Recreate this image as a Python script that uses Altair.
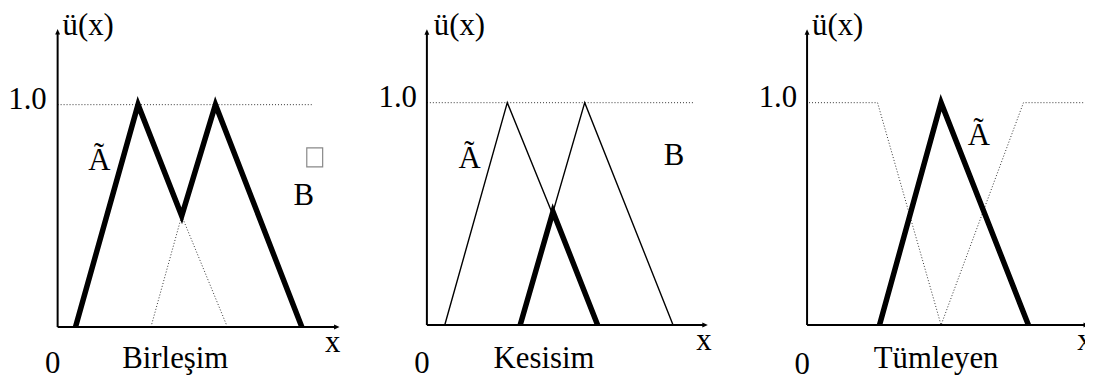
import altair as alt
import pandas as pd

FONT = "Liberation Serif"

# ---------------- data (x in diagram units from the y-axis, u = membership) ----
# Panel 1: Birleşim (union)
p1_A_x = [18, 81, 171]
p1_A_u = [0, 1, 0]
p1_B_x = [94, 159, 246]
p1_B_u = [0, 1, 0]
p1_union_x = [18, 81, 125, 159, 246]
p1_union_u = [0, 1, 0.5, 1, 0]

# Panel 2: Kesisim (intersection)
p2_A_x = [18, 81, 172]
p2_A_u = [0, 1, 0]
p2_B_x = [94, 159, 248]
p2_B_u = [0, 1, 0]
p2_inter_x = [94, 127, 172]
p2_inter_u = [0, 0.51, 0]

# Panel 3: Tümleyen (complement)
p3_A_x = [73, 135, 223]
p3_A_u = [0, 1, 0]
p3_comp_x = [2, 71, 135, 218, 290]
p3_comp_u = [1, 1, 0, 1, 1]

# reference level line (u = 1.0) extents
p1_level_x = [0, 258]
p2_level_x = [0, 268]

# axis lengths
axis_x_tip = [284, 283, 284]
axis_u_tip = [1.34, 1.33, 1.33]

titles = ["Birleşim", "Kesisim", "Tümleyen"]

# label tables: text, x, u, align
p1_labels = [("ü(x)", 5, 1.3125, "left"), ("1.0", -11, 0.982, "right"),
             ("0", -5, -0.205, "center"), ("x", 277, -0.112, "center"),
             (titles[0], 118.5, -0.183, "center"), ("Ã", 42, 0.707, "center"),
             ("B", 248, 0.549, "center")]
p2_labels = [("ü(x)", 7, 1.304, "left"), ("1.0", -10, 0.982, "right"),
             ("0", -5, -0.214, "center"), ("x", 279, -0.112, "center"),
             (titles[1], 118, -0.192, "center"), ("Ã", 43, 0.705, "center"),
             ("B", 249, 0.719, "center")]
p3_labels = [("ü(x)", 5, 1.304, "left"), ("1.0", -10, 0.982, "right"),
             ("0", -5, -0.219, "center"), ("x", 280, -0.112, "center"),
             (titles[2], 130, -0.192, "center"), ("Ã", 173, 0.808, "center")]

# missing-glyph box next to B in panel 1
p1_box = dict(x=251, x2=267, u=0.806, u2=0.72)

# ---------------- layout (panel sizes and scale domains) -------------------
H = 368
panel_w = [382, 370, 333]
x_dom = [[-50, 332], [-40, 330], [-53, 280]]
y_dom = [[-0.2277, 1.4152], [-0.2366, 1.40625], [-0.2366, 1.40625]]


def seg_df(pairs):
    rows = []
    for sid, (xs, us) in enumerate(pairs):
        for xv, uv in zip(xs, us):
            rows.append({"x": xv, "u": uv, "seg": sid})
    return pd.DataFrame(rows)


def panel(i, dotted, thin, thick, labels, box=None, clip=False):
    X = lambda f="x": alt.X(f"{f}:Q", scale=alt.Scale(domain=x_dom[i], nice=False, zero=False), axis=None)
    Y = lambda f="u": alt.Y(f"{f}:Q", scale=alt.Scale(domain=y_dom[i], nice=False, zero=False), axis=None)
    layers = []
    if dotted:
        layers.append(alt.Chart(seg_df(dotted)).mark_line(
            color="#333", strokeWidth=1, strokeDash=[1, 2], clip=clip
        ).encode(x=X(), y=Y(), detail="seg:N"))
    if thin:
        layers.append(alt.Chart(seg_df(thin)).mark_line(
            color="black", strokeWidth=1.4, clip=clip
        ).encode(x=X(), y=Y(), detail="seg:N"))
    layers.append(alt.Chart(seg_df(thick)).mark_line(
        color="black", strokeWidth=5.5, strokeJoin="miter", clip=clip
    ).encode(x=X(), y=Y(), detail="seg:N"))
    # axes
    ax = pd.DataFrame({"x": [0], "x2": [axis_x_tip[i] - 4], "u": [0], "u2": [axis_u_tip[i] - 0.02]})
    layers.append(alt.Chart(ax).mark_rule(color="black", strokeWidth=2, clip=clip).encode(
        x=X(), x2="x2:Q", y=Y()))
    layers.append(alt.Chart(ax).mark_rule(color="black", strokeWidth=2, clip=clip).encode(
        x=X(), y=Y(), y2="u2:Q"))
    tips_x = pd.DataFrame({"x": [axis_x_tip[i]], "u": [0]})
    tips_y = pd.DataFrame({"x": [0], "u": [axis_u_tip[i]]})
    layers.append(alt.Chart(tips_x).mark_point(
        shape="M0,0L-1,-0.45L-1,0.45Z", size=121, filled=True, color="black", opacity=1, clip=clip
    ).encode(x=X(), y=Y()))
    layers.append(alt.Chart(tips_y).mark_point(
        shape="M0,0L0.45,1L-0.45,1Z", size=121, filled=True, color="black", opacity=1, clip=clip
    ).encode(x=X(), y=Y()))
    # labels
    lab = pd.DataFrame(labels, columns=["t", "x", "u", "a"])
    for a in ["left", "center", "right"]:
        sub = lab[lab.a == a]
        if len(sub):
            layers.append(alt.Chart(sub).mark_text(
                font=FONT, fontSize=31, color="black", align=a, baseline="alphabetic", clip=clip
            ).encode(x=X(), y=Y(), text="t:N"))
    if box:
        bdf = pd.DataFrame([box])
        layers.append(alt.Chart(bdf).mark_rect(
            fill="white", stroke="#888", strokeWidth=1.2
        ).encode(x=X(), x2="x2:Q", y=Y(), y2="u2:Q"))
    return alt.layer(*layers).properties(width=panel_w[i], height=H)


lvl = lambda xs: (xs, [1, 1])

c1 = panel(0,
           dotted=[lvl(p1_level_x), ([94, 125], [0, 0.5]), ([125, 171], [0.5, 0])],
           thin=None,
           thick=[(p1_union_x, p1_union_u)],
           labels=p1_labels, box=p1_box)
c2 = panel(1,
           dotted=[lvl(p2_level_x)],
           thin=[(p2_A_x, p2_A_u), (p2_B_x, p2_B_u)],
           thick=[(p2_inter_x, p2_inter_u)],
           labels=p2_labels)
c3 = panel(2,
           dotted=[(p3_comp_x, p3_comp_u)],
           thin=None,
           thick=[(p3_A_x, p3_A_u)],
           labels=p3_labels, clip=True)

chart = alt.hconcat(c1, c2, c3, spacing=0, bounds="flush").properties(
    padding=0, background="white"
).configure_view(stroke=None)

chart.save("out.html", embed_options={"renderer": "svg", "actions": False})
